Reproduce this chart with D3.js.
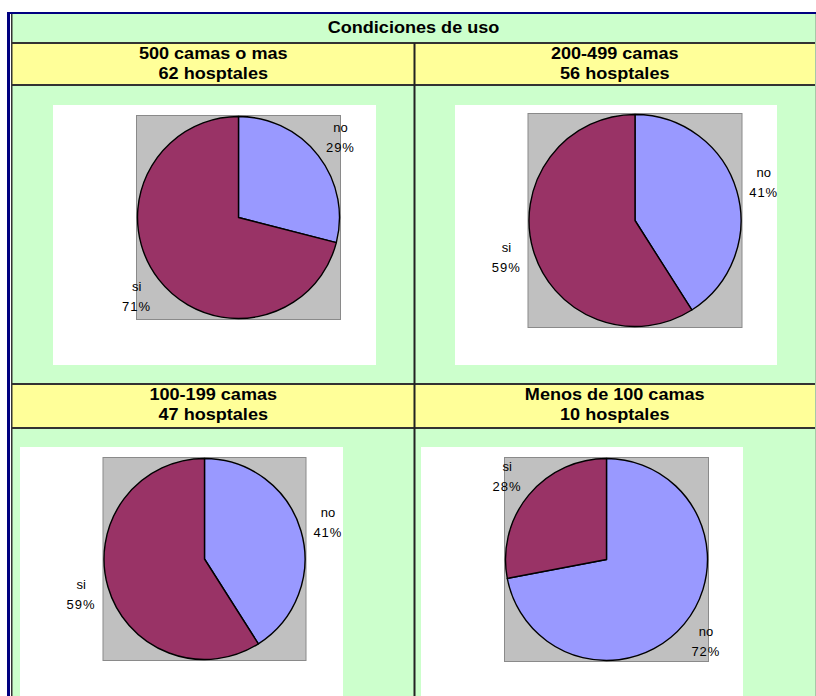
<!DOCTYPE html>
<html>
<head>
<meta charset="utf-8">
<script src="https://cdn.jsdelivr.net/npm/d3@7"></script>
<style>
  html, body { margin: 0; padding: 0; background: #ffffff; }
  svg { display: block; }
  text { font-family: Arial, "Liberation Sans", sans-serif; }
</style>
</head>
<body>
<svg id="chart" width="816" height="696"></svg>
<script>
// Survey: "Condiciones de uso", answers by hospital size group
const title = "Condiciones de uso";
const groups = ["500 camas o mas", "200-499 camas", "100-199 camas", "Menos de 100 camas"];
const hospitals = [62, 56, 47, 10];
const answers = ["no", "si"];
const noPct = [29, 41, 41, 72];
const siPct = [71, 59, 59, 28];

const colors = { no: "#9999ff", si: "#993366" };

// Panel placement: white chart box, pie centre and radius
const panels = [
  { box: [53, 105, 323, 260], cx: 238.5, cy: 217.5, r: 101 },
  { box: [455, 105, 322, 260], cx: 635, cy: 220.5, r: 106 },
  { box: [20, 447, 323, 260], cx: 204.5, cy: 559, r: 100.5 },
  { box: [421, 447, 322, 260], cx: 606.5, cy: 559.5, r: 101 }
];

const svg = d3.select("#chart");
const W = 816, H = 696;
const left = 12, right = 815, colX = 414.5;

// Table background
svg.append("rect").attr("x", left).attr("y", 14).attr("width", right - left).attr("height", H - 14)
  .attr("fill", "#ccffcc");
// Header bands
const bands = [[43, 85], [384, 428]];
bands.forEach(([y0, y1]) => {
  svg.append("rect").attr("x", left).attr("y", y0).attr("width", right - left).attr("height", y1 - y0)
    .attr("fill", "#ffff99");
});
// Grid lines
[43, 85, 384, 428].forEach(y => {
  svg.append("line").attr("x1", left).attr("x2", right).attr("y1", y).attr("y2", y)
    .attr("stroke", "#333333").attr("stroke-width", 2);
});
svg.append("line").attr("x1", colX).attr("x2", colX).attr("y1", 43).attr("y2", H)
  .attr("stroke", "#222222").attr("stroke-width", 2);
svg.append("line").attr("x1", right + 0.5).attr("x2", right + 0.5).attr("y1", 14).attr("y2", H)
  .attr("stroke", "#a8c8a8").attr("stroke-width", 1);
// Outer frame
svg.append("rect").attr("x", 7).attr("y", 12).attr("width", W - 7).attr("height", 2).attr("fill", "#000080");
svg.append("rect").attr("x", 7).attr("y", 12).attr("width", 3).attr("height", H - 12).attr("fill", "#000080");
svg.append("rect").attr("x", 11).attr("y", 14).attr("width", 1.5).attr("height", H - 14).attr("fill", "#333333");

// Title
svg.append("text")
  .attr("transform", `translate(${(left + right) / 2},33) scale(1.13,1)`)
  .attr("text-anchor", "middle").attr("font-size", 16).attr("font-weight", "bold")
  .attr("fill", "#000").text(title);

// Group headers
const headerY = [59, 400];
groups.forEach((g, i) => {
  const cx = i % 2 === 0 ? (left + colX) / 2 : (colX + right) / 2;
  const y = headerY[Math.floor(i / 2)];
  const lines = [g, `${hospitals[i]} hosptales`];
  lines.forEach((t, k) => {
    svg.append("text")
      .attr("transform", `translate(${cx},${y + k * 19.5}) scale(1.13,1)`)
      .attr("text-anchor", "middle").attr("font-size", 16).attr("font-weight", "bold")
      .attr("fill", "#000").text(t);
  });
});

// Pies
const pie = d3.pie().sort(null).value(d => d.value).startAngle(0).endAngle(2 * Math.PI);

panels.forEach((p, i) => {
  const g = svg.append("g");
  const [bx, by, bw, bh] = p.box;
  g.append("rect").attr("x", bx).attr("y", by).attr("width", bw).attr("height", bh).attr("fill", "#ffffff");
  const half = p.r + 1;
  g.append("rect").attr("x", p.cx - half).attr("y", p.cy - half)
    .attr("width", 2 * half).attr("height", 2 * half)
    .attr("fill", "#c0c0c0").attr("stroke", "#8a8a8a").attr("stroke-width", 1);

  const data = pie([
    { key: answers[0], value: noPct[i] },
    { key: answers[1], value: siPct[i] }
  ]);
  const arc = d3.arc().innerRadius(0).outerRadius(p.r);
  const labelArc = d3.arc().innerRadius(p.r + 28).outerRadius(p.r + 28);

  const pg = g.append("g").attr("transform", `translate(${p.cx},${p.cy})`);
  pg.selectAll("path").data(data).join("path")
    .attr("d", arc)
    .attr("fill", d => colors[d.data.key])
    .attr("stroke", "#000").attr("stroke-width", 1.4).attr("stroke-linejoin", "round");

  const lab = pg.selectAll("g.lab").data(data).join("g").attr("class", "lab")
    .attr("transform", d => `translate(${labelArc.centroid(d)})`);
  lab.append("text").attr("text-anchor", "middle").attr("y", -6)
    .attr("font-size", 13).attr("fill", "#000").text(d => d.data.key);
  lab.append("text").attr("text-anchor", "middle").attr("y", 14)
    .attr("font-size", 13).attr("letter-spacing", 1).attr("fill", "#000").text(d => `${d.data.value}%`);
});
</script>
</body>
</html>
